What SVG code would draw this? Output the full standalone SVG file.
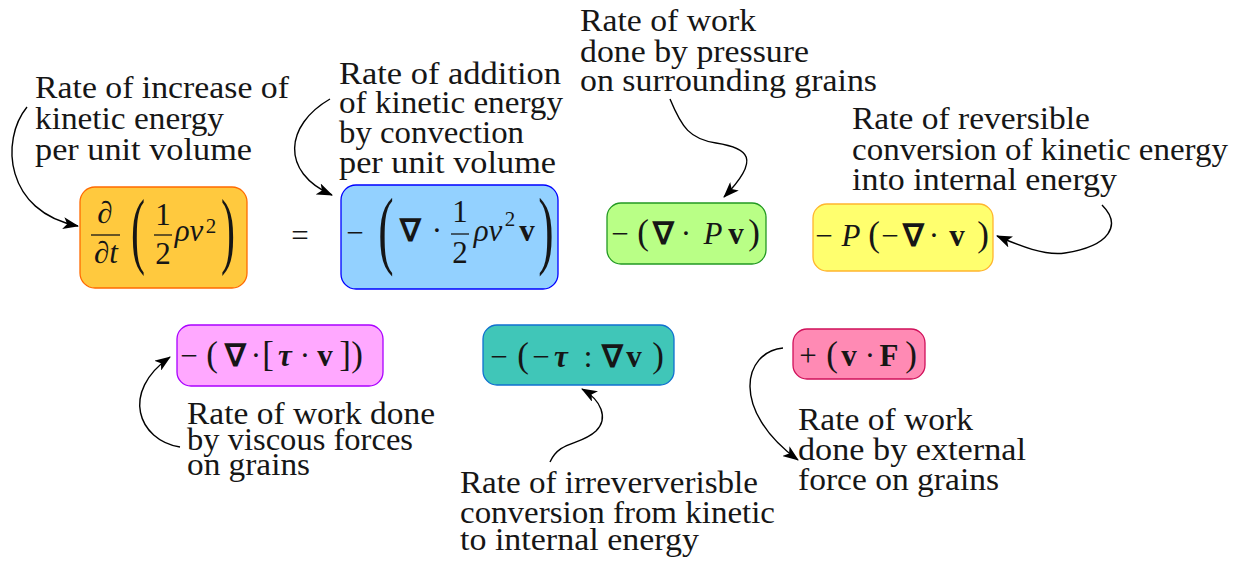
<svg xmlns="http://www.w3.org/2000/svg" width="1248" height="563" viewBox="0 0 1248 563">
<style>
.lbl{font-size:31px;fill:#161616}
.m{font-size:31px;fill:#161616;text-anchor:middle}
.it{font-style:italic}
.bf{font-weight:bold}
.bi{font-weight:bold;font-style:italic}
.sup{font-size:21px}
.p{font-size:35px}
.big{font-size:84px}
.box{stroke-width:1.3}
.bar{stroke:#161616;stroke-width:1.3}
.conn path{fill:none;stroke:#000;stroke-width:1.4;marker-end:url(#ah)}
</style>
<defs>
<marker id="ah" viewBox="0 0 16 12" refX="15" refY="6" markerWidth="16" markerHeight="12" markerUnits="userSpaceOnUse" orient="auto">
<path d="M0,0 L16,6 L0,12 L4,6 Z" fill="#000"/>
</marker>
</defs>
<rect width="1248" height="563" fill="#fff"/>

<g font-family="Liberation Serif">
<g id="n1">
<rect class="box" x="80" y="187" width="167" height="101" rx="15" fill="#FFC93E" stroke="#FF6A00"/>
<text class="m"><tspan x="105" y="223" class="it">∂</tspan><tspan x="106" y="263" class="it">∂t</tspan><tspan x="163" y="225">1</tspan><tspan x="163" y="264">2</tspan><tspan x="189" y="241" class="it">ρv</tspan><tspan x="211" y="233" class="sup">2</tspan></text>
<line class="bar" x1="91" y1="235" x2="120" y2="235"/>
<line class="bar" x1="154" y1="235" x2="172" y2="235"/>
<text class="m big" transform="translate(138,258) scale(0.5,1)">(</text>
<text class="m big" transform="translate(228,258) scale(0.5,1)">)</text>
</g>

<g id="eq"><text class="m" x="300" y="246">=</text></g>

<g id="n2">
<rect class="box" x="341" y="185" width="217" height="104" rx="15" fill="#93D1FF" stroke="#0000FF"/>
<text class="m"><tspan x="355" y="243">−</tspan><tspan x="410" y="241" class="bf">∇</tspan><tspan x="437" y="241">·</tspan><tspan x="460" y="222">1</tspan><tspan x="460" y="263">2</tspan><tspan x="488" y="241" class="it">ρv</tspan><tspan x="510" y="226" class="sup">2</tspan><tspan x="527" y="241" class="bf">v</tspan></text>
<line class="bar" x1="451" y1="234" x2="469" y2="234"/>
<text class="m big" transform="translate(386,258) scale(0.55,1.02)">(</text>
<text class="m big" transform="translate(546,258) scale(0.55,1.02)">)</text>
</g>

<g id="n3">
<rect class="box" x="607" y="203" width="159" height="61" rx="14" fill="#B9FF86" stroke="#229922"/>
<text class="m"><tspan x="620" y="244">−</tspan><tspan x="643" y="244" class="p">(</tspan><tspan x="663" y="244" class="bf">∇</tspan><tspan x="686" y="244">·</tspan><tspan x="713" y="244" class="it">P</tspan><tspan x="736" y="244" class="bf">v</tspan><tspan x="754" y="244" class="p">)</tspan></text>
</g>

<g id="n4">
<rect class="box" x="813" y="204" width="180" height="67" rx="14" fill="#FFFF6E" stroke="#FFB52E"/>
<text class="m"><tspan x="824" y="246">−</tspan><tspan x="851" y="246" class="it">P</tspan><tspan x="874" y="246" class="p">(</tspan><tspan x="890" y="246">−</tspan><tspan x="913" y="246" class="bf">∇</tspan><tspan x="934" y="246">·</tspan><tspan x="957" y="246" class="bf">v</tspan><tspan x="983" y="246" class="p">)</tspan></text>
</g>

<g id="n5">
<rect class="box" x="177" y="325" width="206" height="61" rx="14" fill="#FFA8FF" stroke="#AA00FF"/>
<text class="m"><tspan x="189" y="366">−</tspan><tspan x="212" y="366" class="p">(</tspan><tspan x="235" y="366" class="bf">∇</tspan><tspan x="256" y="366">·</tspan><tspan x="268" y="366" class="p">[</tspan><tspan x="285" y="366" class="bi">τ</tspan><tspan x="305" y="366">·</tspan><tspan x="325" y="366" class="bf">v</tspan><tspan x="345" y="366" class="p">]</tspan><tspan x="357" y="366" class="p">)</tspan></text>
</g>

<g id="n6">
<rect class="box" x="483" y="325" width="191" height="60" rx="14" fill="#40C6B8" stroke="#1070D0"/>
<text class="m"><tspan x="499" y="367">−</tspan><tspan x="523" y="367" class="p">(</tspan><tspan x="541" y="367">−</tspan><tspan x="561" y="367" class="bi">τ</tspan><tspan x="588" y="367">:</tspan><tspan x="612" y="367" class="bf">∇</tspan><tspan x="634" y="367" class="bf">v</tspan><tspan x="658" y="367" class="p">)</tspan></text>
</g>

<g id="n7">
<rect class="box" x="793" y="329" width="132" height="50" rx="14" fill="#FF8AB4" stroke="#D0105A"/>
<text class="m"><tspan x="808" y="366">+</tspan><tspan x="832" y="366" class="p">(</tspan><tspan x="849" y="366" class="bf">v</tspan><tspan x="870" y="366">·</tspan><tspan x="889" y="366" class="bf">F</tspan><tspan x="911" y="366" class="p">)</tspan></text>
</g>

<g id="labels">
<text class="lbl" x="35" y="98" textLength="254" lengthAdjust="spacingAndGlyphs">Rate of increase of</text>
<text class="lbl" x="35" y="129" textLength="189" lengthAdjust="spacingAndGlyphs">kinetic energy</text>
<text class="lbl" x="35" y="160" textLength="217" lengthAdjust="spacingAndGlyphs">per unit volume</text>

<text class="lbl" x="339" y="84" textLength="222" lengthAdjust="spacingAndGlyphs">Rate of addition</text>
<text class="lbl" x="339" y="113" textLength="224" lengthAdjust="spacingAndGlyphs">of kinetic energy</text>
<text class="lbl" x="339" y="143" textLength="185" lengthAdjust="spacingAndGlyphs">by convection</text>
<text class="lbl" x="339" y="173" textLength="217" lengthAdjust="spacingAndGlyphs">per unit volume</text>

<text class="lbl" x="580" y="31" textLength="176" lengthAdjust="spacingAndGlyphs">Rate of work</text>
<text class="lbl" x="580" y="62" textLength="229" lengthAdjust="spacingAndGlyphs">done by pressure</text>
<text class="lbl" x="580" y="91" textLength="297" lengthAdjust="spacingAndGlyphs">on surrounding grains</text>

<text class="lbl" x="852" y="129" textLength="238" lengthAdjust="spacingAndGlyphs">Rate of reversible</text>
<text class="lbl" x="852" y="160" textLength="376" lengthAdjust="spacingAndGlyphs">conversion of kinetic energy</text>
<text class="lbl" x="852" y="190" textLength="265" lengthAdjust="spacingAndGlyphs">into internal energy</text>

<text class="lbl" x="187" y="424" textLength="248" lengthAdjust="spacingAndGlyphs">Rate of work done</text>
<text class="lbl" x="187" y="450" textLength="226" lengthAdjust="spacingAndGlyphs">by viscous forces</text>
<text class="lbl" x="187" y="475" textLength="123" lengthAdjust="spacingAndGlyphs">on grains</text>

<text class="lbl" x="460" y="493" textLength="298" lengthAdjust="spacingAndGlyphs">Rate of irreververisble</text>
<text class="lbl" x="460" y="523" textLength="315" lengthAdjust="spacingAndGlyphs">conversion from kinetic</text>
<text class="lbl" x="460" y="550" textLength="239" lengthAdjust="spacingAndGlyphs">to internal energy</text>

<text class="lbl" x="798" y="430" textLength="175" lengthAdjust="spacingAndGlyphs">Rate of work</text>
<text class="lbl" x="798" y="460" textLength="228" lengthAdjust="spacingAndGlyphs">done by external</text>
<text class="lbl" x="798" y="490" textLength="201" lengthAdjust="spacingAndGlyphs">force on grains</text>
</g>
</g>

<g id="connectors" class="conn">
<path d="M27,107 C0,140 5,212 78,226"/>
<path d="M330,99 C285,125 280,172 332,195"/>
<path d="M670,99 C682,128 690,139 716,143 C748,148 762,158 724,197"/>
<path d="M1102,205 C1122,225 1110,246 1065,253 C1045,256 1020,246 997,236"/>
<path d="M180,447 C138,440 120,392 170,357"/>
<path d="M550,462 C560,440 580,446 596,431 C609,418 601,400 582,389"/>
<path d="M783,348 C743,352 730,410 798,460"/>
</g>
</svg>
